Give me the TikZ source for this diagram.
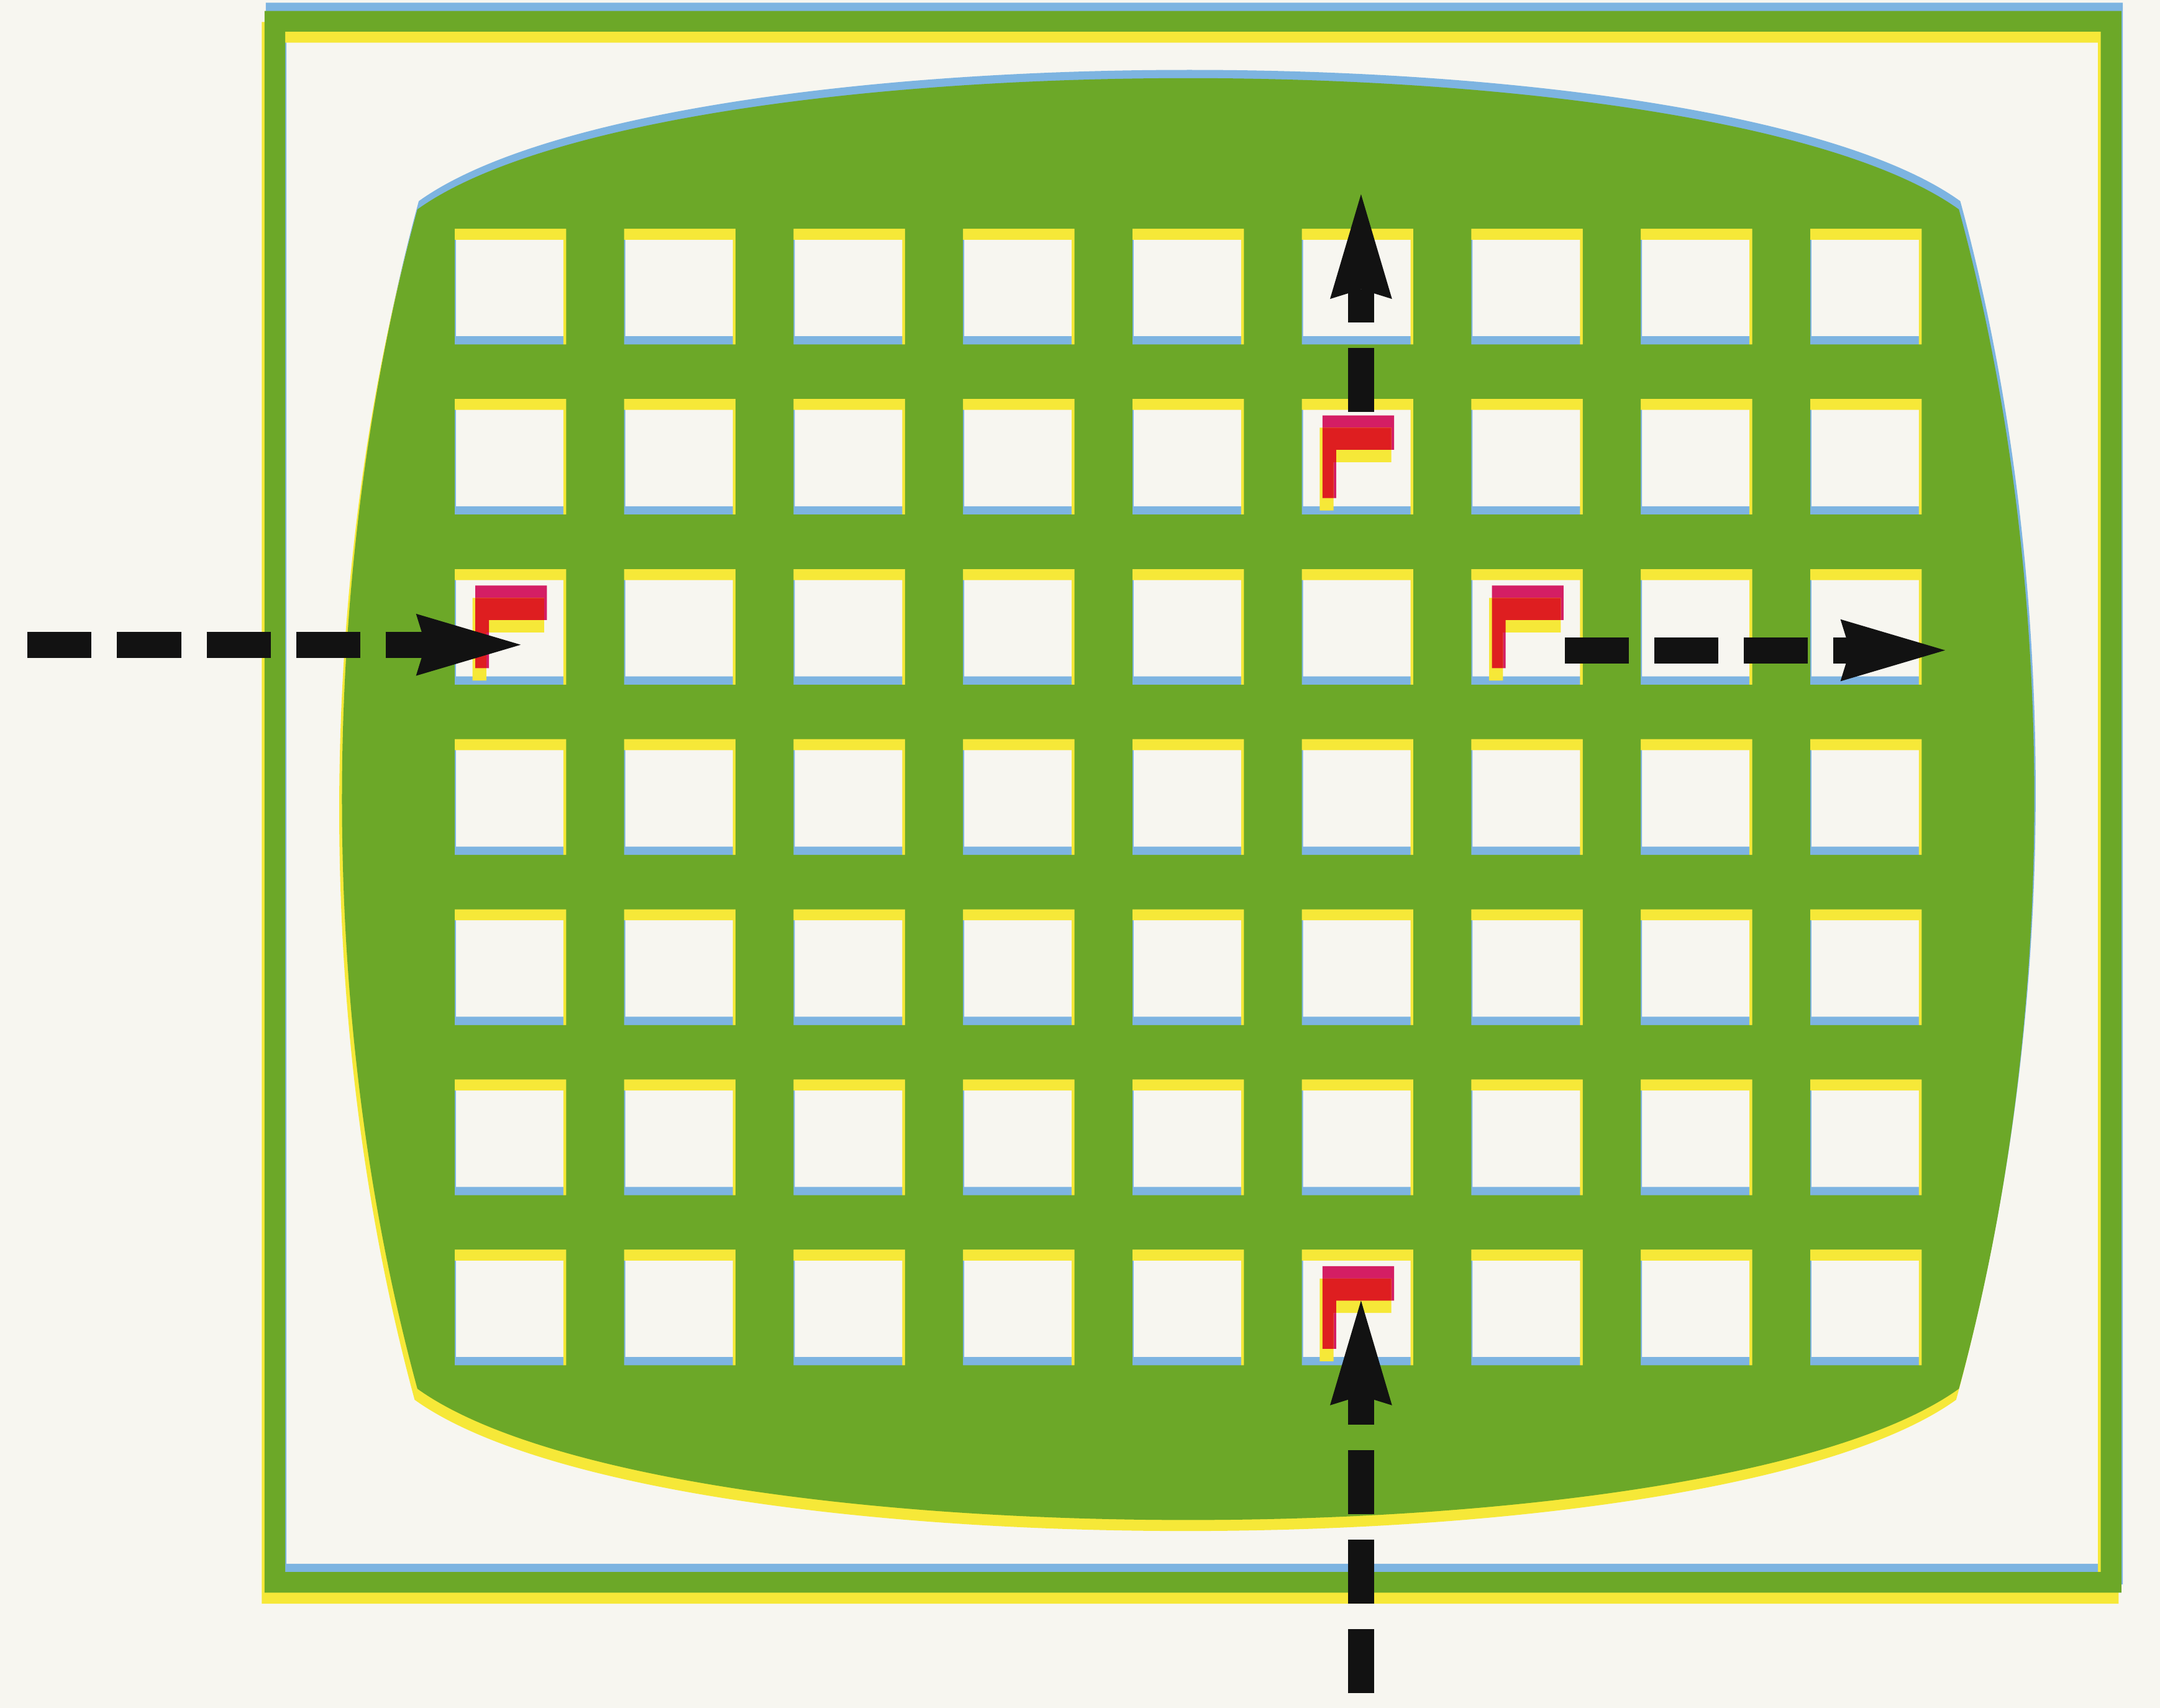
\documentclass[tikz,border=0pt]{standalone}
\usetikzlibrary{arrows.meta}
\definecolor{paper}{RGB}{247,246,240}
\definecolor{screengreen}{RGB}{108,168,40}
\definecolor{inkyellow}{RGB}{246,232,56}
\definecolor{inkblue}{RGB}{125,180,225}
\definecolor{flagred}{RGB}{222,30,32}
\definecolor{flagpink}{RGB}{212,30,100}
\definecolor{arrowink}{RGB}{18,18,18}

\tikzset{
  movearrow/.style={arrowink, line width=1.9mm, dash pattern=on 4.65mm off 1.85mm,
    -{Stealth[length=7.6mm, width=4.5mm, inset=0.7mm, line width=0pt]}},
}

% frame, screen and its 9x7 holes, printed once per ink
\newcommand{\printlayer}[3]{%
  \fill[#1, even odd rule, shift={(#2,#3)}]
    (192,8) rectangle (1540,1156) (207,23) rectangle (1525,1141)
    (303,152) .. controls (480,25) and (1245,25) .. (1422,152)
    .. controls (1495,420) and (1495,740) .. (1422,1008)
    .. controls (1245,1135) and (480,1135) .. (303,1008)
    .. controls (230,740) and (230,420) .. cycle
    \foreach \col in {0,...,8}{\foreach \row in {0,...,6}{
      (330+123*\col,166+123.5*\row) rectangle ++(81,84)}};
}

% red flag in hole (col,row)
\newcommand{\signalflag}[2]{%
  \begin{scope}[shift={(330+123*#1,166+123.5*#2)}]
    \fill[flagpink] (15,12) rectangle (67,37) (15,12) rectangle (25,72);
    \fill[inkyellow] (13,21) rectangle (65,46) (13,21) rectangle (23,81);
    \begin{scope}
      \clip (15,12) -| (67,37) -| (25,72) -| cycle;
      \fill[flagred] (13,21) rectangle (65,46) (13,21) rectangle (23,81);
    \end{scope}
  \end{scope}}

\begin{document}
\begin{tikzpicture}[x=0.1mm, y=-0.1mm]
  \useasboundingbox (0,0) rectangle (1568,1239.7);
  \fill[paper] (0,0) rectangle (1568,1239.7);

  \printlayer{inkblue}{1}{-6}
  \printlayer{inkyellow}{-2}{8}
  \printlayer{screengreen}{0}{0}

  \signalflag{0}{2}
  \signalflag{5}{1}
  \signalflag{6}{2}
  \signalflag{5}{6}

  % arrow ends
  \coordinate (inW) at (20,468);
  \coordinate (flagW) at (378,468);
  \coordinate (flagE) at (1136,472);
  \coordinate (outE) at (1412,472);
  \coordinate (flagN) at (988,299);
  \coordinate (outN) at (988,141);
  \coordinate (inS) at (988,1229);
  \coordinate (flagS) at (988,944);

  \draw[movearrow] (inW) -- (flagW);
  \draw[movearrow] (flagE) -- (outE);
  \draw[movearrow] (flagN) -- (outN);
  \draw[movearrow] (inS) -- (flagS);
\end{tikzpicture}
\end{document}
